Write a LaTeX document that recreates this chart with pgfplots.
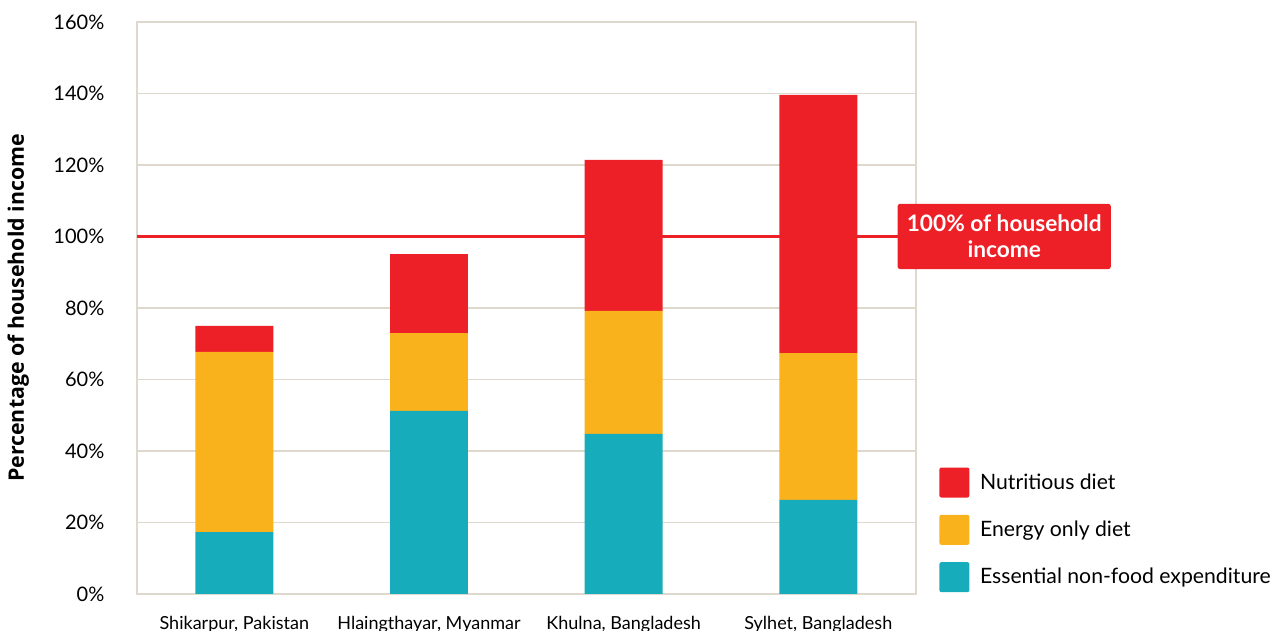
\documentclass[border=0pt]{standalone}
\usepackage{pgfplots}
\pgfplotsset{compat=1.18}
\usepackage{fontspec}
\setmainfont{Lato}
\newfontfamily\ylabfont{Open Sans}

\definecolor{teal}{RGB}{23,172,187}
\definecolor{amber}{RGB}{249,178,27}
\definecolor{oxred}{RGB}{237,32,39}
\definecolor{frame}{RGB}{222,217,204}

\begin{document}
\begin{tikzpicture}
\path[use as bounding box] (-102.75pt,-27.75pt) rectangle (858.75pt,445.5pt);
\begin{axis}[
    at={(0,0)}, anchor=south west,
    scale only axis,
    width=584pt, height=429pt,
    ybar stacked,
    bar width=0.4,
    xmin=-0.5, xmax=3.5,
    ymin=0, ymax=160,
    xtick={0,1,2,3},
    xticklabels={{Shikarpur, Pakistan},{Hlaingthayar, Myanmar},{Khulna, Bangladesh},{Sylhet, Bangladesh}},
    ytick={0,20,...,160},
    yticklabels={0\%,20\%,40\%,60\%,80\%,100\%,120\%,140\%,160\%},
    major tick length=0pt,
    axis line style={draw=frame, line width=1.5pt},
    ymajorgrids,
    grid style={draw=frame, line width=0.8pt},
    xticklabel style={font=\fontsize{13.5}{15}\selectfont, yshift=-13pt},
    yticklabel style={font=\fontsize{15}{17}\selectfont, xshift=-21pt},
    ylabel={\ylabfont\bfseries Percentage of household income},
    ylabel style={font=\fontsize{16}{18}\selectfont, at={(rel axis cs:0,0.5)}, anchor=center, yshift=89pt},
    clip=false,
    reverse legend,
    legend cell align=left,
    legend style={at={(axis cs:3.6,36.2)}, anchor=north west, draw=none, fill=none,
        font=\fontsize{15.9}{18}\selectfont, row sep=13pt,
        /tikz/every odd column/.append style={column sep=6pt}},
    legend image code/.code={\fill[#1, rounded corners=1.5pt] (0pt,-11.25pt) rectangle (22.5pt,11.25pt);},
]
\addplot[fill=teal, draw=none] coordinates {(0,17.3) (1,51.2) (2,44.8) (3,26.3)};
\addlegendentry{Essential non-food expenditure}
\addplot[fill=amber, draw=none] coordinates {(0,50.4) (1,21.8) (2,34.4) (3,41.1)};
\addlegendentry{Energy only diet}
\addplot[fill=oxred, draw=none] coordinates {(0,7.3) (1,22.1) (2,42.2) (3,72.2)};
\addlegendentry{Nutritious diet}
\draw[oxred, line width=2.2pt] (axis cs:-0.5,100) -- (axis cs:3.45,100);
\node[fill=oxred, rounded corners=2pt, text=white, align=center,
    font=\bfseries\fontsize{17}{19.5}\selectfont, minimum width=160pt, minimum height=49pt,
    inner sep=2pt] at (axis cs:3.955,100) {100\% of household\\income};
\end{axis}
\end{tikzpicture}
\end{document}
